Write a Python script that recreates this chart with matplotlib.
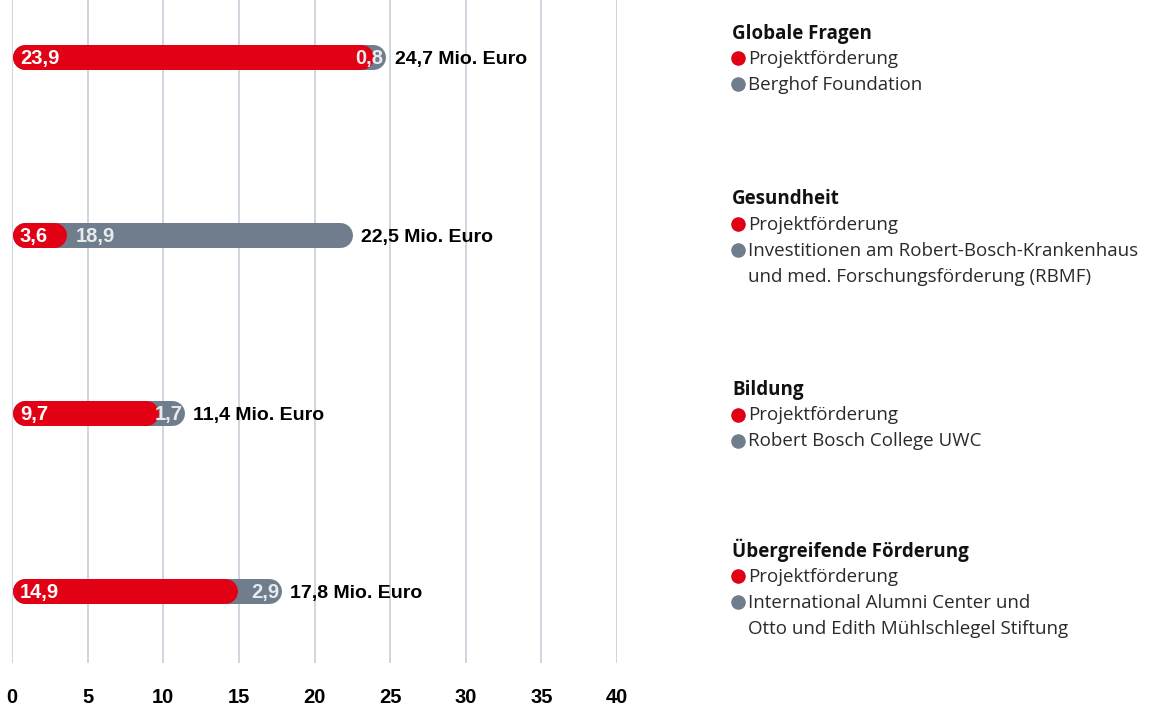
import matplotlib
matplotlib.use("Agg")
import matplotlib.pyplot as plt
from matplotlib import font_manager

# ---- data ----
categories = ["Globale Fragen", "Gesundheit", "Bildung", "Übergreifende Förderung"]
projekt = [23.9, 3.6, 9.7, 14.9]
other = [0.8, 18.9, 1.7, 2.9]
totals = [24.7, 22.5, 11.4, 17.8]
projekt_label = "Projektförderung"
other_labels = [
    "Berghof Foundation",
    "Investitionen am Robert-Bosch-Krankenhaus\nund med. Forschungsförderung (RBMF)",
    "Robert Bosch College UWC",
    "International Alumni Center und\nOtto und Edith Mühlschlegel Stiftung",
]
xticks = [0, 5, 10, 15, 20, 25, 30, 35, 40]
unit = "Mio. Euro"

RED = "#E20015"
GREY = "#707D8C"
GRID = "#CDD1DA"
LABEL_GREY = "#E8EAEE"

names = {f.name for f in font_manager.fontManager.ttflist}
NUM_FONT = "Liberation Sans"
LEG_FONT = "Open Sans" if "Open Sans" in names else "DejaVu Sans"

def fmt(v):
    return f"{v:.1f}".replace(".", ",")

W, H, DPI = 1150, 709, 100
fig = plt.figure(figsize=(W / DPI, H / DPI), dpi=DPI)

ax_left, ax_right, ax_top, ax_bot = 12, 617, 0, 663
ax = fig.add_axes([ax_left / W, 1 - ax_bot / H, (ax_right - ax_left) / W, (ax_bot - ax_top) / H])
ax.set_xlim(0, 40)
row_px = 178
ax.set_ylim(3 + 72 / row_px, -57 / row_px)
for s in ax.spines.values():
    s.set_visible(False)
ax.set_xticks(xticks)
ax.set_xticklabels([str(t) for t in xticks], fontfamily=NUM_FONT, fontweight="bold", fontsize=14.5)
ax.tick_params(axis="x", length=0, pad=18)
ax.set_yticks([])
ax.grid(axis="x", color=GRID, linewidth=1.3)
ax.set_axisbelow(True)

bar_px = 25
px_per_unit = (ax_right - ax_left) / 40
r = (bar_px / 2) / px_per_unit
lw = bar_px * 72 / DPI
dy = 7 / row_px  # baseline offset (half cap height)

ypos = list(range(len(categories)))
for y, p, o, t in zip(ypos, projekt, other, totals):
    ax.plot([r, t - r], [y, y], color=GREY, lw=lw, solid_capstyle="round", zorder=3)
    ax.plot([r, p - r], [y, y], color=RED, lw=lw, solid_capstyle="round", zorder=4)
    ax.text(8 / px_per_unit, y + dy, fmt(p), color="white", fontweight="bold", fontfamily=NUM_FONT,
            fontsize=14.5, va="baseline", ha="left", zorder=5)
    if o * px_per_unit > 60:
        ax.text(p + 9 / px_per_unit, y + dy, fmt(o), color=LABEL_GREY, fontweight="bold", fontfamily=NUM_FONT,
                fontsize=14.5, va="baseline", ha="left", zorder=5)
    else:
        ax.text(t - 2 / px_per_unit, y + dy, fmt(o), color=LABEL_GREY, fontweight="bold", fontfamily=NUM_FONT,
                fontsize=14.5, va="baseline", ha="right", zorder=5)
    ax.text(t + 9 / px_per_unit, y + dy, f"{fmt(t)} {unit}", color="black", fontweight="bold",
            fontfamily=NUM_FONT, fontsize=14, va="baseline", ha="left", zorder=5)

# ---- legend (pixel coordinate overlay) ----
lax = fig.add_axes([0, 0, 1, 1])
lax.set_xlim(0, W)
lax.set_ylim(H, 0)
lax.axis("off")
title_y = [33, 199, 390, 551]
line_h = 26
fs = 13.5
off = 5.5
for ty, cat, ol in zip(title_y, categories, other_labels):
    lax.text(732, ty + off, cat, fontfamily=LEG_FONT, fontweight="bold", fontsize=fs, va="baseline", ha="left",
             color="#111111")
    y1 = ty + 25
    lax.plot(737.5, y1, "o", color=RED, ms=10.5, mew=0)
    lax.text(748, y1 + off, projekt_label, fontfamily=LEG_FONT, fontsize=fs, va="baseline", ha="left",
             color="#2a2a2a")
    y2 = y1 + line_h
    lax.plot(737.5, y2, "o", color=GREY, ms=10.5, mew=0)
    for i, line in enumerate(ol.split("\n")):
        lax.text(748, y2 + i * line_h + off, line, fontfamily=LEG_FONT, fontsize=fs, va="baseline", ha="left",
                 color="#2a2a2a")

fig.savefig("out.png", dpi=DPI)
